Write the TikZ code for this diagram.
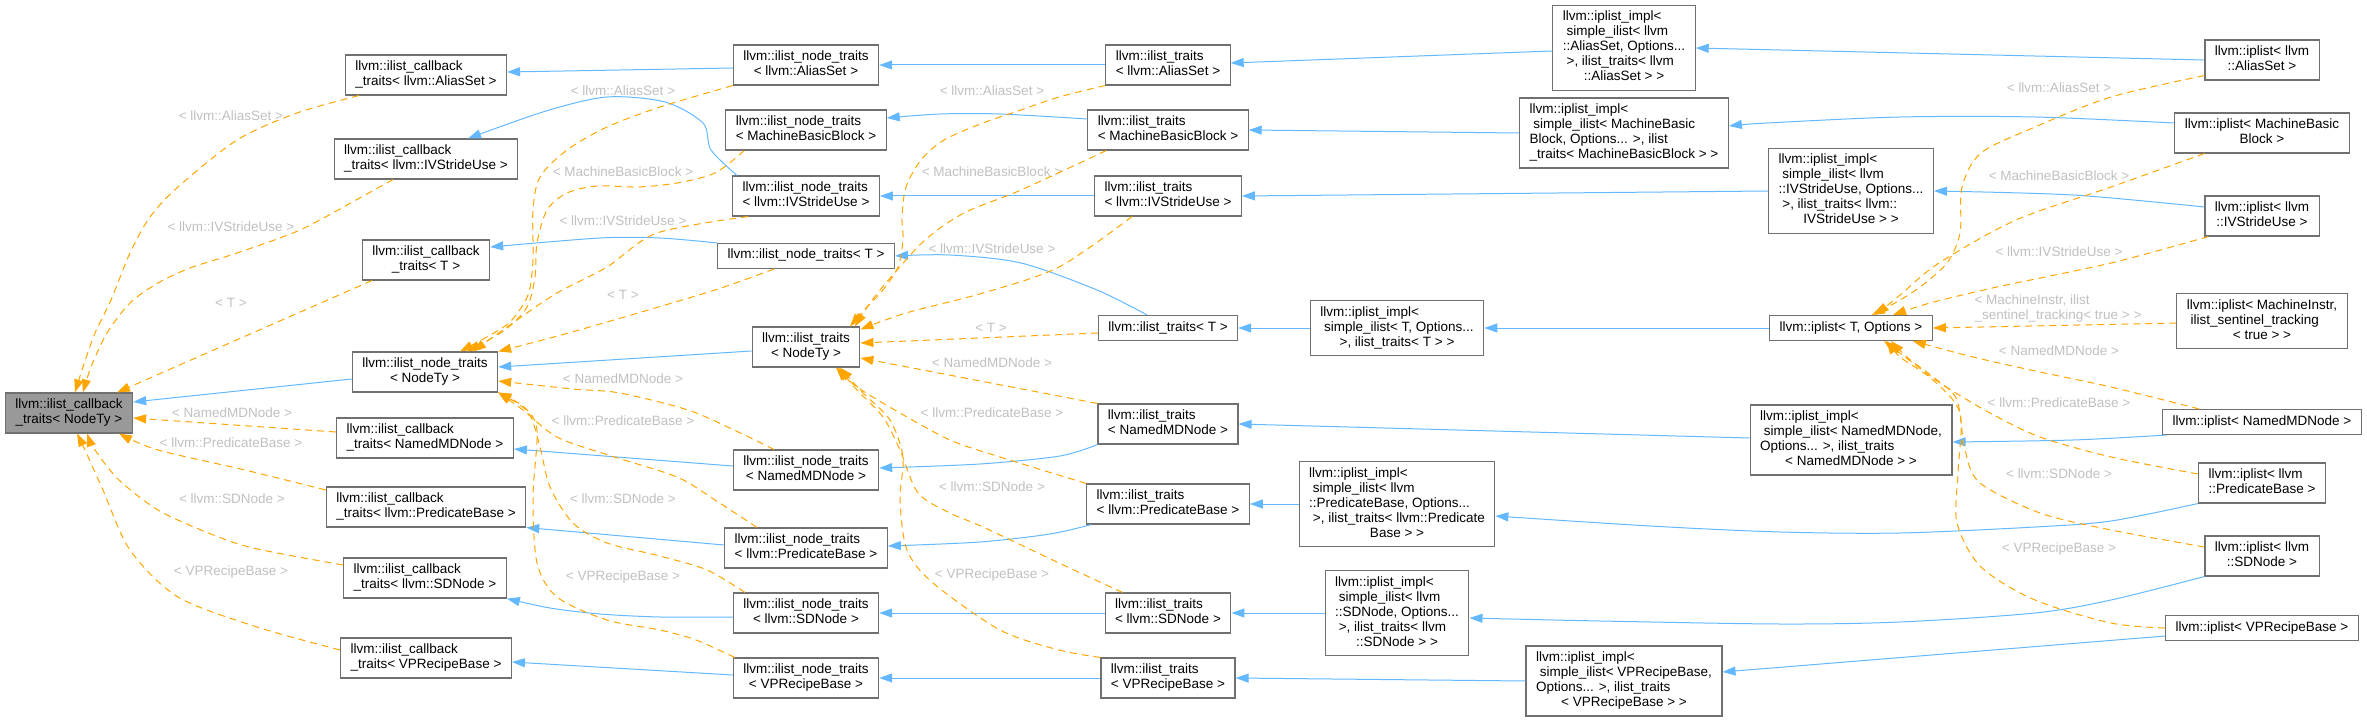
\documentclass[tikz,border=0pt]{standalone}
\usepackage{fontspec}
\setmainfont{Liberation Sans}
\usetikzlibrary{arrows.meta}
\definecolor{sblue}{HTML}{63B8FF}
\definecolor{orng}{HTML}{FFA500}
\definecolor{bord}{HTML}{707070}
\definecolor{rootfill}{HTML}{999999}
\definecolor{lgrey}{HTML}{C0C0C0}
\newcommand{\ntx}[2]{\begin{tabular}{@{}l@{}}#1\\\multicolumn{1}{@{}c@{}}{#2}\end{tabular}}
\newcommand{\onel}[1]{\begin{tabular}{@{}c@{}}#1\end{tabular}}
\begin{document}
\begin{tikzpicture}[x=1pt,y=-1pt,
  nbox/.style={draw=bord, line width=1.1pt, fill=white, inner xsep=10pt, inner ysep=5pt, font=\fontsize{13.5}{15}\selectfont},
  root/.style={nbox, fill=rootfill},
  inh/.style={draw=sblue, line width=1pt, -{Triangle[length=13pt,width=9pt,fill=sblue]}},
  tpl/.style={draw=orng, line width=1pt, dash pattern=on 7pt off 5pt, -{Triangle[length=13pt,width=9pt,fill=orng]}},
  lbl/.style={text=lgrey, inner sep=0pt, font=\fontsize{13.5}{15}\selectfont}]
\useasboundingbox (0,0) rectangle (2367,722);

% ---- nodes ----
\node[root] (cbNodeTy) at (69,413) {\ntx{llvm::ilist\_callback}{\_traits< NodeTy >}};
\node[nbox] (cbAlias) at (426,75) {\ntx{llvm::ilist\_callback}{\_traits< llvm::AliasSet >}};
\node[nbox] (cbIV) at (426,159) {\ntx{llvm::ilist\_callback}{\_traits< llvm::IVStrideUse >}};
\node[nbox] (cbT) at (426,260) {\ntx{llvm::ilist\_callback}{\_traits< T >}};
\node[nbox] (ntNodeTy) at (425,372) {\ntx{llvm::ilist\_node\_traits}{< NodeTy >}};
\node[nbox] (cbNamed) at (425,438) {\ntx{llvm::ilist\_callback}{\_traits< NamedMDNode >}};
\node[nbox] (cbPred) at (426,507) {\ntx{llvm::ilist\_callback}{\_traits< llvm::PredicateBase >}};
\node[nbox] (cbSD) at (425,578) {\ntx{llvm::ilist\_callback}{\_traits< llvm::SDNode >}};
\node[nbox] (cbVP) at (426,658) {\ntx{llvm::ilist\_callback}{\_traits< VPRecipeBase >}};

\node[nbox] (ntAlias) at (806,65) {\ntx{llvm::ilist\_node\_traits}{< llvm::AliasSet >}};
\node[nbox] (ntMBB) at (806,130) {\ntx{llvm::ilist\_node\_traits}{< MachineBasicBlock >}};
\node[nbox] (ntIV) at (806,196) {\ntx{llvm::ilist\_node\_traits}{< llvm::IVStrideUse >}};
\node[nbox] (ntT) at (806,256) {\onel{llvm::ilist\_node\_traits< T >}};
\node[nbox] (itNodeTy) at (806,347) {\ntx{llvm::ilist\_traits}{< NodeTy >}};
\node[nbox] (ntNamed) at (806,470) {\ntx{llvm::ilist\_node\_traits}{< NamedMDNode >}};
\node[nbox] (ntPred) at (806,548) {\ntx{llvm::ilist\_node\_traits}{< llvm::PredicateBase >}};
\node[nbox] (ntSD) at (806,613) {\ntx{llvm::ilist\_node\_traits}{< llvm::SDNode >}};
\node[nbox] (ntVP) at (806,678) {\ntx{llvm::ilist\_node\_traits}{< VPRecipeBase >}};

\node[nbox] (itAlias) at (1168,65) {\ntx{llvm::ilist\_traits}{< llvm::AliasSet >}};
\node[nbox] (itMBB) at (1168,130) {\ntx{llvm::ilist\_traits}{< MachineBasicBlock >}};
\node[nbox] (itIV) at (1168,196) {\ntx{llvm::ilist\_traits}{< llvm::IVStrideUse >}};
\node[nbox] (itT) at (1168,328) {\onel{llvm::ilist\_traits< T >}};
\node[nbox] (itNamed) at (1168,424) {\ntx{llvm::ilist\_traits}{< NamedMDNode >}};
\node[nbox] (itPred) at (1168,504) {\ntx{llvm::ilist\_traits}{< llvm::PredicateBase >}};
\node[nbox] (itSD) at (1168,613) {\ntx{llvm::ilist\_traits}{< llvm::SDNode >}};
\node[nbox] (itVP) at (1168,678) {\ntx{llvm::ilist\_traits}{< VPRecipeBase >}};

\node[nbox] (impAlias) at (1624,48) {\ntx{llvm::iplist\_impl<\\\ simple\_ilist< llvm\\::AliasSet, Options...\\\ >, ilist\_traits< llvm}{::AliasSet > >}};
\node[nbox] (impMBB) at (1624,133) {\ntx{llvm::iplist\_impl<\\\ simple\_ilist< MachineBasic\\Block, Options... >, ilist}{\_traits< MachineBasicBlock > >}};
\node[nbox] (impIV) at (1851,191) {\ntx{llvm::iplist\_impl<\\\ simple\_ilist< llvm\\::IVStrideUse, Options...\\\ >, ilist\_traits< llvm::}{IVStrideUse > >}};
\node[nbox] (impT) at (1397,328) {\ntx{llvm::iplist\_impl<\\\ simple\_ilist< T, Options...}{>, ilist\_traits< T > >}};
\node[nbox] (impNamed) at (1851,440) {\ntx{llvm::iplist\_impl<\\\ simple\_ilist< NamedMDNode,\\Options... >, ilist\_traits}{< NamedMDNode > >}};
\node[nbox] (impPred) at (1397,504) {\ntx{llvm::iplist\_impl<\\\ simple\_ilist< llvm\\::PredicateBase, Options...\\\ >, ilist\_traits< llvm::Predicate}{Base > >}};
\node[nbox] (impSD) at (1397,613) {\ntx{llvm::iplist\_impl<\\\ simple\_ilist< llvm\\::SDNode, Options...\\\ >, ilist\_traits< llvm}{::SDNode > >}};
\node[nbox] (impVP) at (1624,681) {\ntx{llvm::iplist\_impl<\\\ simple\_ilist< VPRecipeBase,\\Options... >, ilist\_traits}{< VPRecipeBase > >}};

\node[nbox] (iplT) at (1851,328) {\onel{llvm::iplist< T, Options >}};
\node[nbox] (iplAlias) at (2262,60) {\ntx{llvm::iplist< llvm}{::AliasSet >}};
\node[nbox] (iplMBB) at (2262,133) {\ntx{llvm::iplist< MachineBasic}{Block >}};
\node[nbox] (iplIV) at (2262,216) {\ntx{llvm::iplist< llvm}{::IVStrideUse >}};
\node[nbox] (iplMI) at (2262,321) {\ntx{llvm::iplist< MachineInstr,\\\ ilist\_sentinel\_tracking}{< true > >}};
\node[nbox] (iplNamed) at (2262,422) {\onel{llvm::iplist< NamedMDNode >}};
\node[nbox] (iplPred) at (2262,483) {\ntx{llvm::iplist< llvm}{::PredicateBase >}};
\node[nbox] (iplSD) at (2262,556) {\ntx{llvm::iplist< llvm}{::SDNode >}};
\node[nbox] (iplVP) at (2262,628) {\onel{llvm::iplist< VPRecipeBase >}};

% ---- labels ----
\node[lbl] (la1) at (231,116) {< llvm::AliasSet >};
\node[lbl] (la2) at (231,227) {< llvm::IVStrideUse >};
\node[lbl] (la3) at (231,303) {< T >};
\node[lbl] (la4) at (232,413) {< NamedMDNode >};
\node[lbl] (la5) at (231,443) {< llvm::PredicateBase >};
\node[lbl] (la6) at (232,499) {< llvm::SDNode >};
\node[lbl] (la7) at (231,572) {< VPRecipeBase >};

\node[lbl] (lb1) at (623,91) {< llvm::AliasSet >};
\node[lbl] (lb2) at (623,172) {< MachineBasicBlock >};
\node[lbl] (lb3) at (623,221) {< llvm::IVStrideUse >};
\node[lbl] (lb4) at (623,295) {< T >};
\node[lbl] (lb5) at (623,379) {< NamedMDNode >};
\node[lbl] (lb6) at (623,421) {< llvm::PredicateBase >};
\node[lbl] (lb7) at (623,499) {< llvm::SDNode >};
\node[lbl] (lb8) at (623,577) {< VPRecipeBase >};

\node[lbl] (lc1) at (992,91) {< llvm::AliasSet >};
\node[lbl] (lc2) at (992,172) {< MachineBasicBlock >};
\node[lbl] (lc3) at (992,249) {< llvm::IVStrideUse >};
\node[lbl] (lc4) at (991,328) {< T >};
\node[lbl] (lc5) at (992,363) {< NamedMDNode >};
\node[lbl] (lc6) at (992,413) {< llvm::PredicateBase >};
\node[lbl] (lc7) at (992,487) {< llvm::SDNode >};
\node[lbl] (lc8) at (992,575) {< VPRecipeBase >};

\node[lbl] (ld1) at (2059,88) {< llvm::AliasSet >};
\node[lbl] (ld2) at (2059,176) {< MachineBasicBlock >};
\node[lbl] (ld3) at (2059,252) {< llvm::IVStrideUse >};
\node[lbl] (ld4) at (2058,308.5) {\ntx{< MachineInstr, ilist}{\_sentinel\_tracking< true > >}};
\node[lbl] (ld5) at (2059,351) {< NamedMDNode >};
\node[lbl] (ld6) at (2059,403) {< llvm::PredicateBase >};
\node[lbl] (ld7) at (2059,474) {< llvm::SDNode >};
\node[lbl] (ld8) at (2059,549) {< VPRecipeBase >};

% ---- inheritance (blue) ----
\draw[inh] ([yshift=-7pt]ntNodeTy.west) -- ([yshift=11pt]cbNodeTy.east);
\draw[inh] ([yshift=-3pt]ntAlias.west) -- ([yshift=3pt]cbAlias.east);
\draw[inh] plot[smooth, tension=0.5] coordinates {([xshift=5pt]ntIV.north west) (711,150) (703,123) (665,102) (607,97) (546,111) ([xshift=42pt]cbIV.north)};
\draw[inh] plot[smooth, tension=0.5] coordinates {(ntT.north west) (660,238) (600,238) ([yshift=13pt]cbT.east)};
\draw[inh] ([yshift=4pt]ntNamed.west) -- ([yshift=-11pt]cbNamed.east);
\draw[inh] ([yshift=3pt]ntPred.west) -- (cbPred.south east);
\draw[inh] plot[smooth, tension=0.5] coordinates {([yshift=-4pt]ntSD.west) (660,617) (600,614) (550,608) (cbSD.south east)};
\draw[inh] ([yshift=3pt]ntVP.west) -- ([yshift=-4pt]cbVP.east);
\draw[inh] ([yshift=-4pt]itNodeTy.west) -- ([yshift=5pt]ntNodeTy.east);
\draw[inh] (itAlias.west) -- (ntAlias.east);
\draw[inh] plot[smooth, tension=0.5] coordinates {([yshift=11pt]itMBB.west) (1000,114) (940,114) ([yshift=12pt]ntMBB.east)};
\draw[inh] (itIV.west) -- (ntIV.east);
\draw[inh] plot[smooth, tension=0.5] coordinates {([xshift=-21pt]itT.north) (1097,290) (1021,263) (950,255) (ntT.east)};
\draw[inh] plot[smooth, tension=0.5] coordinates {(itNamed.south west) (1060,456) (980,464) ([yshift=2pt]ntNamed.east)};
\draw[inh] plot[smooth, tension=0.5] coordinates {([xshift=5pt]itPred.south west) (1050,534) (980,542) ([yshift=2pt]ntPred.east)};
\draw[inh] (itSD.west) -- (ntSD.east);
\draw[inh] (itVP.west) -- (ntVP.east);
\draw[inh] ([yshift=-3pt]impAlias.west) -- ([yshift=2pt]itAlias.east);
\draw[inh] (impMBB.west) -- (itMBB.east);
\draw[inh] (impIV.west) -- (itIV.east);
\draw[inh] (impT.west) -- (itT.east);
\draw[inh] ([yshift=2pt]impNamed.west) -- (itNamed.east);
\draw[inh] (impPred.west) -- (itPred.east);
\draw[inh] (impSD.west) -- (itSD.east);
\draw[inh] (impVP.west) -- (itVP.east);
\draw[inh] (iplAlias.west) -- (impAlias.east);
\draw[inh] plot[smooth, tension=0.5] coordinates {([yshift=10pt]iplMBB.west) (2035,117) (1900,117) (1767,123) ([yshift=7pt]impMBB.east)};
\draw[inh] plot[smooth, tension=0.5] coordinates {([yshift=9pt]iplIV.west) (2073,195) (impIV.east)};
\draw[inh] (iplT.west) -- (impT.east);
\draw[inh] plot[smooth, tension=0.5] coordinates {([xshift=4pt]iplNamed.south west) (2073,440) ([yshift=-2pt]impNamed.east)};
\draw[inh] plot[smooth, tension=0.5] coordinates {(iplPred.south west) (2111,521) (2035,527) (1900,533) (1780,532) (1650,526) ([yshift=-12pt]impPred.east)};
\draw[inh] plot[smooth, tension=0.5] coordinates {(iplSD.south west) (2111,600) (2035,613) (1900,622) (1780,624) (1600,621) ([yshift=-5pt]impSD.east)};
\draw[inh] ([yshift=-8pt]iplVP.west) -- ([yshift=9pt]impVP.east);

% ---- template instances (orange dashed) ----
\draw[tpl] plot[smooth, tension=0.5] coordinates {([xshift=14pt]cbAlias.south west) (297,113) (237,140) (178,187) (150,217) (130,253) (111,300) (95,333) (83,367) ([xshift=6pt]cbNodeTy.north)};
\draw[tpl] plot[smooth, tension=0.5] coordinates {([xshift=-33pt]cbIV.south) (356,200) (300,230) (237,253) (190,268) (158,283) (130,303) (107,333) (91,367) ([xshift=14pt]cbNodeTy.north)};
\draw[tpl] ([xshift=-54pt]cbT.south) -- ([xshift=48pt]cbNodeTy.north);
\draw[tpl] ([yshift=6pt]cbNamed.west) -- ([yshift=-5pt]cbNodeTy.east);
\draw[tpl] plot[smooth, tension=0.5] coordinates {([yshift=17pt]cbPred.west) (245,470) (158,450) ([xshift=50pt]cbNodeTy.south)};
\draw[tpl] plot[smooth, tension=0.5] coordinates {([yshift=13pt]cbSD.west) (253,548) (206,532) (158,510) (119,480) (95,450) ([xshift=18pt]cbNodeTy.south)};
\draw[tpl] plot[smooth, tension=0.5] coordinates {([yshift=8pt]cbVP.west) (257,627) (178,597) (130,550) (103,490) (85,450) ([xshift=8pt]cbNodeTy.south)};

\draw[tpl] plot[smooth, tension=0.5] coordinates {(ntAlias.south west) (660,107) (607,127) (567,150) (540,177) (533,210) (533,260) (528,295) (510,322) (485,338) ([xshift=35pt]ntNodeTy.north)};
\draw[tpl] plot[smooth, tension=0.5] coordinates {([xshift=19pt]ntMBB.south west) (715,173) (677,183) (638,187) (597,186) (567,193) (547,210) (537,243) (535,277) (527,307) (505,330) ([xshift=42pt]ntNodeTy.north)};
\draw[tpl] plot[smooth, tension=0.5] coordinates {([xshift=16pt]ntIV.south west) (657,233) (607,267) (557,293) (517,320) ([xshift=48pt]ntNodeTy.north)};
\draw[tpl] plot[smooth, tension=0.5] coordinates {([xshift=-32pt]ntT.south) (715,290) (638,313) (607,322) (554,337) (ntNodeTy.north east)};
\draw[tpl] plot[smooth, tension=0.5] coordinates {([xshift=-32pt]ntNamed.north) (734,430) (688,410) (620,393) (573,389) ([yshift=-9pt]ntNodeTy.east)};
\draw[tpl] plot[smooth, tension=0.5] coordinates {([xshift=-49pt]ntPred.north) (715,500) (677,477) (608,455) (557,437) (523,410) (ntNodeTy.south east)};
\draw[tpl] plot[smooth, tension=0.5] coordinates {([xshift=-61pt]ntSD.north) (707,570) (660,556) (607,543) (573,523) (550,487) (540,447) (528,412) (ntNodeTy.south east)};
\draw[tpl] plot[smooth, tension=0.5] coordinates {([xshift=2pt]ntVP.north west) (696,640) (660,630) (607,620) (557,597) (537,563) (533,497) (537,430) (524,407) (ntNodeTy.south east)};

\draw[tpl] plot[smooth, tension=0.5] coordinates {(itAlias.south west) (1059,97) (1021,110) (983,123) (944,140) (921,160) (906,187) (902,217) (903,240) (898,267) (883,290) (866,308) ([xshift=44pt]itNodeTy.north)};
\draw[tpl] plot[smooth, tension=0.5] coordinates {([xshift=19pt]itMBB.south west) (1021,190) (964,213) (925,240) (891,277) (870,303) ([xshift=49pt]itNodeTy.north)};
\draw[tpl] plot[smooth, tension=0.5] coordinates {([xshift=38pt]itIV.south west) (1059,267) (983,293) (906,313) ([yshift=-3pt]itNodeTy.north east)};
\draw[tpl] ([yshift=-5pt]itT.west) -- ([yshift=4pt]itNodeTy.east);
\draw[tpl] (itNamed.north west) -- ([yshift=-11pt]itNodeTy.east);
\draw[tpl] plot[smooth, tension=0.5] coordinates {(itPred.north west) (1000,457) (950,440) (900,413) (857,387) ([xshift=30pt]itNodeTy.south)};
\draw[tpl] plot[smooth, tension=0.5] coordinates {([xshift=18pt]itSD.north west) (1059,563) (983,527) (950,513) (918,493) (900,450) (883,417) (857,390) ([xshift=32pt]itNodeTy.south)};
\draw[tpl] plot[smooth, tension=0.5] coordinates {(itVP.north west) (1059,650) (1000,630) (933,583) (907,550) (900,500) (903,457) (890,420) (863,393) ([xshift=34pt]itNodeTy.south)};

\draw[tpl] plot[smooth, tension=0.5] coordinates {([yshift=5pt]iplAlias.south west) (2111,97) (2035,127) (1981,153) (1962,187) (1960,233) (1947,263) (1920,287) (1895,303) ([xshift=21pt]iplT.north)};
\draw[tpl] plot[smooth, tension=0.5] coordinates {([xshift=30pt]iplMBB.south west) (2111,187) (2016,220) (1939,263) (1900,295) ([xshift=25pt]iplT.north)};
\draw[tpl] plot[smooth, tension=0.5] coordinates {([xshift=4pt]iplIV.south west) (2111,263) (1997,287) (1930,303) ([xshift=42pt]iplT.north)};
\draw[tpl] ([yshift=-2pt]iplMI.west) -- (iplT.east);
\draw[tpl] plot[smooth, tension=0.5] coordinates {([xshift=37pt]iplNamed.north west) (2111,387) (2040,372) (1973,357) ([xshift=-20pt]iplT.south east)};
\draw[tpl] plot[smooth, tension=0.5] coordinates {([yshift=9pt]iplPred.west) (2111,457) (2040,437) (1990,413) (1940,383) (1905,357) ([xshift=33pt]iplT.south)};
\draw[tpl] plot[smooth, tension=0.5] coordinates {([yshift=9pt]iplSD.west) (2111,530) (2040,513) (1980,483) (1965,450) (1957,400) (1937,380) (1908,358) ([xshift=40pt]iplT.south)};
\draw[tpl] plot[smooth, tension=0.5] coordinates {(iplVP.west) (2111,623) (2035,600) (1981,567) (1957,523) (1958,473) (1960,413) (1933,380) (1900,357) ([xshift=36pt]iplT.south)};
\end{tikzpicture}
\end{document}
